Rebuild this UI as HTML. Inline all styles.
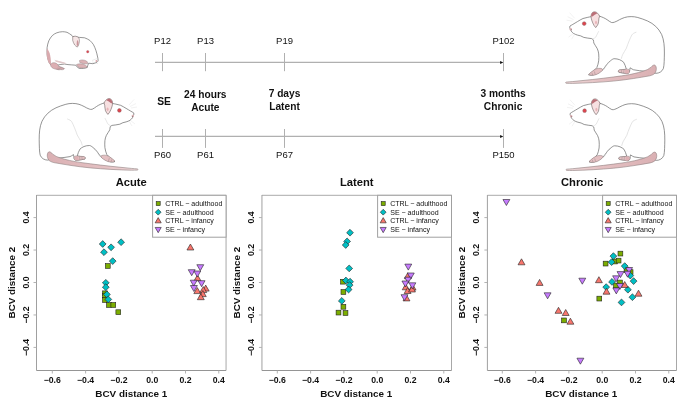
<!DOCTYPE html><html><head><meta charset="utf-8"><style>html,body{margin:0;padding:0;background:#fff;width:685px;height:405px;overflow:hidden}svg{display:block;will-change:transform}text{font-family:"Liberation Sans",sans-serif;fill:#111}</style></head><body>
<svg width="685" height="405" viewBox="0 0 685 405">
<rect width="685" height="405" fill="#fff"/>
<defs>
<g id="rat">
 <path d="M47.6 160.1C44.5 160 41.5 158.5 40.2 155.2C39.3 152 39.3 145 39.2 139.8C39.2 133 39.5 127 42 121.2C45 115 50 110.5 56 107.8C59 106.5 62.5 105.2 65.8 104.3C68 103.7 70 103.4 72.4 103.4C75 103.4 77 103.7 79 104.3C81 105 82.5 105.7 84.1 106.5C86 107.5 87.5 108.5 89.2 109C90.2 109.4 91.2 109.5 92.1 109.3C93.8 108.6 95 107.5 96.5 106.5C99 104.8 101.5 103.8 104 103L112.6 103.5C113.8 103.7 114.8 103.9 115.8 104.1C117.5 104.5 119 104.8 120.6 105.3C122.5 106.2 124.2 107.2 126.1 108.4C127.8 109.4 129.3 110.3 130.8 111.2C131.8 111.8 132.8 112.3 133.6 112.8C134 113.6 134 114.4 133.6 115.2C133.3 116.2 132.9 117.1 132.4 117.9C131.7 118.9 130.9 119.6 130 120.3C128.7 121.1 127.4 121.5 126.1 121.9C125 122.2 124 122.5 122.9 122.7C121.8 123.3 120.8 123.8 119.8 124.2C117 124.8 114.5 125.1 111.9 125.4C111.3 125.7 110.8 126.1 110.3 126.6C110 127.7 109.9 128.8 109.8 129.8C108.8 131.6 107.5 133.4 106.4 135.3C105.6 137 105.1 138.8 104.9 140.7C104.7 143 104.7 145.3 104.9 147.6C105.2 150 105.9 152.3 106.8 154.5C108 155.8 109 156.8 109.8 157.5C111.5 158.8 113.5 160 115 161.5C113 162.3 110.5 162 108.5 161.2C106 160.3 103 158.5 100.7 156.5C99.5 155 98.3 153.2 97 151.5C95.7 150 94.4 148.5 93 147.5C91.8 146.5 90.6 145.6 89.5 145.5C87.5 145.5 85.5 145.9 84 146.5C82.3 147.3 81 148 80 149C78.8 151 77.9 153.5 77.2 156.1L84.5 157C85.5 157.8 85.3 158.8 84.5 159.2C82 159.6 79 160 76.5 160.3C75 160.2 74.2 159.2 74 157.8C73.8 156.5 73.7 155.5 73.5 154.6C72.3 155.4 71 156.2 70 156.6C66 157.3 62 157.8 58.7 158C55 158.5 51 159.6 47.6 160.1Z" fill="#fff" stroke="#666" stroke-width="0.7"/>
 <path d="M67.2 118.9C69.5 119.8 71 120.5 71.7 121.7C73.5 125 75.5 130 77.2 135C78.5 137.5 80 139.5 81 141.5C81.6 143 82 144.3 82.3 145.6" fill="none" stroke="#d2d2d2" stroke-width="0.6"/>
 <path d="M104.9 118C105.8 120 106.8 122 107.8 123.9C108.8 124.8 109.8 125.4 110.8 125.7" fill="none" stroke="#d8d8d8" stroke-width="0.6"/>
 <path d="M95 148.6C96.5 151 98.3 153.8 100 156.5" fill="none" stroke="#bbb" stroke-width="0.5"/>
 <defs><linearGradient id="tg" x1="47" y1="0" x2="138" y2="0" gradientUnits="userSpaceOnUse"><stop offset="0" stop-color="#dab0b3"/><stop offset="0.6" stop-color="#e4c0c2"/><stop offset="1" stop-color="#efd9da"/></linearGradient></defs>
 <path d="M49.3 151.8C50.7 151.9 51.6 152.9 52.5 154C53.7 154.9 54.9 155.7 56.2 156.4C59 157.7 62 158.6 64.9 159.3C68 160.2 71 160.7 74 161.4C79 162.3 85 163.1 90.4 163.8C97 164.7 104 165.5 110.9 166.3C117.7 167 124.5 167.7 131.3 168.4C133.5 168.6 135.5 168.7 137.4 168.9C138.2 169.2 138.2 169.9 137.4 170.1C135.5 170.2 133.4 170.2 131.3 170.2C124.5 170 117.7 169.8 110.9 169.4C104 169 97 168.5 90.4 167.9C83.5 167.2 76.7 166.4 70 165.3C64.9 164.5 59 163.5 53.8 162.6C51.5 162 49.8 161.2 48.8 160.1C47.6 158.5 47.2 156.8 47.3 155C47.4 153.3 48.1 151.9 49.3 151.8Z" fill="url(#tg)" stroke="#8f7f80" stroke-width="0.6"/>
 <path d="M104 103C105 100.8 106.8 98.8 108.7 98.6C109.6 98.6 110.4 98.8 111.1 99.3C112 100.2 112.5 101.5 112.6 102.9C112.5 104.3 112.3 105.6 111.9 106.9C111.3 108.8 110.5 110.7 109.5 112.4C109 113.1 108.5 113.8 107.9 114.4C106.9 113.3 106.1 112.1 105.5 110.8C105.1 109 104.8 107.2 104.7 105.3C104.5 104.5 104.2 103.7 104 103Z" fill="#f7e0e1" stroke="#6a5c5d" stroke-width="0.6"/>
 <path d="M106.5 100.2C107.5 99.1 108.8 98.7 110.2 98.9C111.5 99.6 112.3 101 112.5 102.8C112 103.5 111.4 103.5 110.8 103C109.6 101.8 108.2 100.8 106.5 100.2Z" fill="#bb6f77"/>
 <ellipse cx="107.6" cy="109.3" rx="1" ry="1.8" fill="#e8b4b8"/>
 <circle cx="119.4" cy="110.4" r="1.85" fill="#e0434c" stroke="#8a6a6c" stroke-width="0.5"/>
 <circle cx="132.8" cy="116" r="1.2" fill="#dfb3b6"/>
 <circle cx="132.4" cy="116.5" r="0.45" fill="#555"/>
 <path d="M74.2 157C74.5 156.2 75.8 155.8 77.3 156L84 156.6C85.2 157 85.6 158 85 158.9C83 159.5 80 159.9 77.3 160.4C75.6 160.6 74.5 160 74.2 159C74 158.3 74 157.6 74.2 157Z" fill="#e6c3c5" stroke="#7f6f70" stroke-width="0.45"/>
 <path d="M74.6 157.2C75.5 156.4 77 156.3 78.3 156.5L78.6 160.1C77 160.4 75.6 160.3 74.8 159.5Z" fill="#ddb0b4"/>
 <path d="M79.6 156.6L79.9 159.8M81.9 156.8L82.1 159.5" stroke="#8a7a7b" stroke-width="0.4"/>
 <path d="M101.5 155.6C103.5 154.8 106.5 155 108.8 156.3C111 157.6 113.2 159.4 115 161.3C113.5 162.3 110.5 162.4 107.8 161.5C105 160.5 102.5 158.8 101 157C100.9 156.4 101.1 155.9 101.5 155.6Z" fill="#e4c0c2" stroke="#7f6f70" stroke-width="0.45"/>
 <path d="M109.3 158.2L108.4 161.2M111.7 159.5L111 161.9" stroke="#8a7a7b" stroke-width="0.4"/>
 <path d="M129 105L134 99.5M130 106.5L136 103.5M131 108L137 107M129 121L132 126M130.5 120.5L135 124" stroke="#e2e2e2" stroke-width="0.45" fill="none"/>
</g></defs>
<use href="#rat"/>
<use href="#rat" transform="translate(704 0.3) scale(-1 1)"/>
<use href="#rat" transform="translate(703.6 -86.8) scale(-1 1)"/>

<g>
 <path d="M50.5 64.6C49.3 63.2 48.6 61.8 48.3 60.1C47.6 58.3 47.2 56.4 47.1 54.4C47 52 47 49.8 47.1 47.6C47.4 45.2 48 42.9 48.8 40.8C49.8 38.8 50.9 37.1 52.2 35.7C53.6 34.4 55.1 33.4 56.8 32.8C58.7 32.1 60.6 31.8 62.5 31.7C64 31.7 65.6 31.9 67 32.3C68.7 33 70.4 34.4 72.1 35.6L72.7 36.5L79.4 37.4C81.1 37.5 82.9 37.6 84.6 37.8C86.4 38.5 88.2 39.3 89.8 40.4C91.1 41.6 92.3 43 93.4 44.5C94.5 46.5 95.3 48.6 96 50.7C96.7 52.8 97.2 54.9 97.6 57C97.9 58.2 98.1 59.4 98.1 60.6C97.9 61.3 97.5 61.8 97 62.2C95.7 62.8 94.3 63.4 92.9 63.7C91.5 63.6 90.1 63.4 88.7 63.2C88 64.5 87.5 66 87.2 67.5C85 68.3 82 68.6 79 68.3C77.5 67.5 76.5 66.5 75.8 65.2C73 65 70.5 64.8 68 64.6C66.5 64.5 65.5 64.2 64.7 64C61.5 64.2 58.5 64.8 56 65.6C54 66.2 52 66 50.5 64.6Z" fill="#fff" stroke="#5e5e5e" stroke-width="0.65"/>
 <path d="M72.7 36.7C73.7 36.3 74.8 36.1 75.8 36.2C77 36.6 78.1 37.1 78.9 37.8C79.3 39 79.5 40.2 79.4 41.4C79.2 42.8 78.8 44.3 78.4 45.6C78 46.1 77.7 46.6 77.3 47.1C76.3 46.5 75.4 45.8 74.7 45C73.8 43.5 73.1 42 72.7 40.4C72.6 39.2 72.6 37.9 72.7 36.7Z" fill="#f6e6e6" stroke="#6a5c5d" stroke-width="0.5"/>
 <path d="M77.3 40C78.3 40.8 78.8 42.5 78.4 44.5C78 45.5 77.5 46.2 77 46.2C76.5 44.5 76.5 42 77.3 40Z" fill="#c9949a"/>
 <circle cx="87.7" cy="51.7" r="1.2" fill="#df4450" stroke="#a07478" stroke-width="0.35"/>
 <circle cx="96.4" cy="61" r="0.9" fill="#d9a5aa"/>
 <path d="M46.9 48.5C46.4 52.5 46.6 56.5 47.6 60C48.4 62.5 49.6 64.3 50.9 65.2C51.2 62.5 50.8 59 50.2 55.5C49.6 52.5 48.5 50 46.9 48.5Z" fill="#d9aaae"/>
 <path d="M55 60.3C59 61 63 62 66.5 63.2C63 63.8 59 63.2 55.5 61.6Z" fill="#e6c4c6"/>
 <path d="M50.6 64.3C51.6 62.7 53.6 62.3 55.6 63C57.2 63.6 58.2 64.8 58.6 66.2C60.5 66.8 62.8 67.6 64.6 68.6C64 69.6 62.5 70 61 69.6C59.5 69.9 57.5 69.8 55.8 69.2C53.8 68.8 52 68 51.2 66.8C50.7 66 50.5 65.1 50.6 64.3Z" fill="#dcaeb2" stroke="#857576" stroke-width="0.4"/>
 <path d="M58.5 66.6L64 68.6M57.5 67.9L62 69.4M56.5 68.8L59.5 69.7" stroke="#8d7b7c" stroke-width="0.35"/>
 <path d="M79.5 60.5C81.5 59.5 84 59.8 86.5 61C87.5 61.8 87.8 62.8 87.5 63.8C85 64 82 63.5 79.8 62.5Z" fill="#dcb2b5" stroke="#857576" stroke-width="0.4"/>
 <path d="M76.5 64.5C78.5 63.5 81.5 63.6 84 64.5C86 65.3 87.3 66.3 87.2 67.3C85 68 82 68.3 79.5 67.8C78 67 77 65.9 76.5 64.5Z" fill="#dcb2b5" stroke="#857576" stroke-width="0.4"/>
 <path d="M92 60.5L98.5 58M92 62L98 63.5M54.5 60.1C58 61.3 61.5 62.5 64.7 63.5" stroke="#cfcfcf" stroke-width="0.4" fill="none"/>
</g>
<line x1="155" y1="62.4" x2="501" y2="62.4" stroke="#b0b0b0" stroke-width="1.1"/>
<path d="M500.1 60.9L503.3 62.4L500.1 63.9Z" fill="#111"/>
<line x1="162.5" y1="53.0" x2="162.5" y2="71.2" stroke="#b0b0b0" stroke-width="1"/>
<text x="162.5" y="44.1" text-anchor="middle" font-size="9.5" fill="#222">P12</text>
<line x1="205.5" y1="53.0" x2="205.5" y2="71.2" stroke="#b0b0b0" stroke-width="1"/>
<text x="205.5" y="44.1" text-anchor="middle" font-size="9.5" fill="#222">P13</text>
<line x1="284.5" y1="53.0" x2="284.5" y2="71.2" stroke="#b0b0b0" stroke-width="1"/>
<text x="284.5" y="44.1" text-anchor="middle" font-size="9.5" fill="#222">P19</text>
<line x1="503.5" y1="53.0" x2="503.5" y2="71.2" stroke="#b0b0b0" stroke-width="1"/>
<text x="503.5" y="44.1" text-anchor="middle" font-size="9.5" fill="#222">P102</text>
<line x1="155" y1="136.4" x2="501" y2="136.4" stroke="#b0b0b0" stroke-width="1.1"/>
<path d="M500.1 134.9L503.3 136.4L500.1 137.9Z" fill="#111"/>
<line x1="162.5" y1="129.0" x2="162.5" y2="147.9" stroke="#b0b0b0" stroke-width="1"/>
<text x="162.5" y="158.1" text-anchor="middle" font-size="9.5" fill="#222">P60</text>
<line x1="205.5" y1="129.0" x2="205.5" y2="147.9" stroke="#b0b0b0" stroke-width="1"/>
<text x="205.5" y="158.1" text-anchor="middle" font-size="9.5" fill="#222">P61</text>
<line x1="284.5" y1="129.0" x2="284.5" y2="147.9" stroke="#b0b0b0" stroke-width="1"/>
<text x="284.5" y="158.1" text-anchor="middle" font-size="9.5" fill="#222">P67</text>
<line x1="503.5" y1="129.0" x2="503.5" y2="147.9" stroke="#b0b0b0" stroke-width="1"/>
<text x="503.5" y="158.1" text-anchor="middle" font-size="9.5" fill="#222">P150</text>
<text x="164" y="105.2" text-anchor="middle" font-weight="bold" font-size="10.3">SE</text>
<text x="205.3" y="97.9" text-anchor="middle" font-weight="bold" font-size="10.2">24 hours</text>
<text x="205.3" y="110.5" text-anchor="middle" font-weight="bold" font-size="10.2">Acute</text>
<text x="284.5" y="97.4" text-anchor="middle" font-weight="bold" font-size="10.2">7 days</text>
<text x="284.5" y="110.0" text-anchor="middle" font-weight="bold" font-size="10.2">Latent</text>
<text x="503.1" y="97.3" text-anchor="middle" font-weight="bold" font-size="10.2">3 months</text>
<text x="503.1" y="109.8" text-anchor="middle" font-weight="bold" font-size="10.2">Chronic</text>
<text x="131.25" y="185.5" text-anchor="middle" font-weight="bold" font-size="11.2">Acute</text>
<path d="M36.5 195.3H226.05" stroke="#ababab" stroke-width="1"/>
<path d="M226.05 195.3V370.5" stroke="#a8a8a8" stroke-width="1"/>
<path d="M36.5 195V370.5" stroke="#a0a0a0" stroke-width="1"/>
<path d="M36.5 370.5H226.05" stroke="#959595" stroke-width="1"/>
<line x1="52.3" y1="370.5" x2="52.3" y2="373.5" stroke="#aaa" stroke-width="0.9"/>
<text x="52.3" y="383.3" text-anchor="middle" font-weight="bold" font-size="8.7">−0.6</text>
<line x1="85.6" y1="370.5" x2="85.6" y2="373.5" stroke="#aaa" stroke-width="0.9"/>
<text x="85.6" y="383.3" text-anchor="middle" font-weight="bold" font-size="8.7">−0.4</text>
<line x1="118.9" y1="370.5" x2="118.9" y2="373.5" stroke="#aaa" stroke-width="0.9"/>
<text x="118.9" y="383.3" text-anchor="middle" font-weight="bold" font-size="8.7">−0.2</text>
<line x1="152.2" y1="370.5" x2="152.2" y2="373.5" stroke="#aaa" stroke-width="0.9"/>
<text x="152.2" y="383.3" text-anchor="middle" font-weight="bold" font-size="8.7">0.0</text>
<line x1="185.5" y1="370.5" x2="185.5" y2="373.5" stroke="#aaa" stroke-width="0.9"/>
<text x="185.5" y="383.3" text-anchor="middle" font-weight="bold" font-size="8.7">0.2</text>
<line x1="218.8" y1="370.5" x2="218.8" y2="373.5" stroke="#aaa" stroke-width="0.9"/>
<text x="218.8" y="383.3" text-anchor="middle" font-weight="bold" font-size="8.7">0.4</text>
<line x1="36.5" y1="347.42" x2="33.5" y2="347.42" stroke="#aaa" stroke-width="0.9"/>
<text transform="translate(28.9 347.42) rotate(-90)" text-anchor="middle" font-weight="bold" font-size="8.7">−0.4</text>
<line x1="36.5" y1="314.96" x2="33.5" y2="314.96" stroke="#aaa" stroke-width="0.9"/>
<text transform="translate(28.9 314.96) rotate(-90)" text-anchor="middle" font-weight="bold" font-size="8.7">−0.2</text>
<line x1="36.5" y1="282.5" x2="33.5" y2="282.5" stroke="#aaa" stroke-width="0.9"/>
<text transform="translate(28.9 282.5) rotate(-90)" text-anchor="middle" font-weight="bold" font-size="8.7">0.0</text>
<line x1="36.5" y1="250.04" x2="33.5" y2="250.04" stroke="#aaa" stroke-width="0.9"/>
<text transform="translate(28.9 250.04) rotate(-90)" text-anchor="middle" font-weight="bold" font-size="8.7">0.2</text>
<line x1="36.5" y1="217.58" x2="33.5" y2="217.58" stroke="#aaa" stroke-width="0.9"/>
<text transform="translate(28.9 217.58) rotate(-90)" text-anchor="middle" font-weight="bold" font-size="8.7">0.4</text>
<text x="131.25" y="396.5" text-anchor="middle" font-weight="bold" font-size="9.9">BCV distance 1</text>
<text transform="translate(14.6 282.6) rotate(-90)" text-anchor="middle" font-weight="bold" font-size="9.85">BCV distance 2</text>
<rect x="105.4" y="263.6" width="4.8" height="4.8" fill="#7CAE00" stroke="#222" stroke-width="0.6"/>
<rect x="102.6" y="290.9" width="4.8" height="4.8" fill="#7CAE00" stroke="#222" stroke-width="0.6"/>
<rect x="102.6" y="293.2" width="4.8" height="4.8" fill="#7CAE00" stroke="#222" stroke-width="0.6"/>
<rect x="102.6" y="297.6" width="4.8" height="4.8" fill="#7CAE00" stroke="#222" stroke-width="0.6"/>
<rect x="106.5" y="302.6" width="4.8" height="4.8" fill="#7CAE00" stroke="#222" stroke-width="0.6"/>
<rect x="110.9" y="302.6" width="4.8" height="4.8" fill="#7CAE00" stroke="#222" stroke-width="0.6"/>
<rect x="115.9" y="309.8" width="4.8" height="4.8" fill="#7CAE00" stroke="#222" stroke-width="0.6"/>
<path d="M102.7 240.6L106.1 244L102.7 247.4L99.3 244Z" fill="#00BFC4" stroke="#222" stroke-width="0.6"/>
<path d="M121.1 238.8L124.5 242.2L121.1 245.6L117.7 242.2Z" fill="#00BFC4" stroke="#222" stroke-width="0.6"/>
<path d="M111.1 243.9L114.5 247.3L111.1 250.7L107.7 247.3Z" fill="#00BFC4" stroke="#222" stroke-width="0.6"/>
<path d="M104 248.8L107.4 252.2L104 255.6L100.6 252.2Z" fill="#00BFC4" stroke="#222" stroke-width="0.6"/>
<path d="M112.7 257.7L116.1 261.1L112.7 264.5L109.3 261.1Z" fill="#00BFC4" stroke="#222" stroke-width="0.6"/>
<path d="M105.8 279.4L109.2 282.8L105.8 286.2L102.4 282.8Z" fill="#00BFC4" stroke="#222" stroke-width="0.6"/>
<path d="M105.8 283.8L109.2 287.2L105.8 290.6L102.4 287.2Z" fill="#00BFC4" stroke="#222" stroke-width="0.6"/>
<path d="M106.9 291L110.3 294.4L106.9 297.8L103.5 294.4Z" fill="#00BFC4" stroke="#222" stroke-width="0.6"/>
<path d="M108.3 296L111.7 299.4L108.3 302.8L104.9 299.4Z" fill="#00BFC4" stroke="#222" stroke-width="0.6"/>
<path d="M190.4 244L193.86 250L186.94 250Z" fill="#F8766D" stroke="#222" stroke-width="0.6"/>
<path d="M197.5 274.8L200.96 280.8L194.04 280.8Z" fill="#F8766D" stroke="#222" stroke-width="0.6"/>
<path d="M205.7 285.1L209.16 291.1L202.24 291.1Z" fill="#F8766D" stroke="#222" stroke-width="0.6"/>
<path d="M197.3 287.6L200.76 293.6L193.84 293.6Z" fill="#F8766D" stroke="#222" stroke-width="0.6"/>
<path d="M203.3 286.6L206.76 292.6L199.84 292.6Z" fill="#F8766D" stroke="#222" stroke-width="0.6"/>
<path d="M202.8 290.6L206.26 296.6L199.34 296.6Z" fill="#F8766D" stroke="#222" stroke-width="0.6"/>
<path d="M200.8 293.7L204.26 299.7L197.34 299.7Z" fill="#F8766D" stroke="#222" stroke-width="0.6"/>
<path d="M200.3 270.7L203.76 264.7L196.84 264.7Z" fill="#C77CFF" stroke="#222" stroke-width="0.6"/>
<path d="M191.7 275.7L195.16 269.7L188.24 269.7Z" fill="#C77CFF" stroke="#222" stroke-width="0.6"/>
<path d="M197.3 277L200.76 271L193.84 271Z" fill="#C77CFF" stroke="#222" stroke-width="0.6"/>
<path d="M193.7 286.2L197.16 280.2L190.24 280.2Z" fill="#C77CFF" stroke="#222" stroke-width="0.6"/>
<path d="M201.6 286.7L205.06 280.7L198.14 280.7Z" fill="#C77CFF" stroke="#222" stroke-width="0.6"/>
<path d="M193.9 291.5L197.36 285.5L190.44 285.5Z" fill="#C77CFF" stroke="#222" stroke-width="0.6"/>
<rect x="152.6" y="195.3" width="73.45" height="41.9" fill="#fff" stroke="#a0a0a0" stroke-width="1"/>
<rect x="156.2" y="201.6" width="4" height="4" fill="#7CAE00" stroke="#222" stroke-width="0.6"/>
<path d="M158.2 209.3L161.1 212.2L158.2 215.1L155.3 212.2Z" fill="#00BFC4" stroke="#222" stroke-width="0.6"/>
<path d="M158.2 217.6L161.23 222.85L155.17 222.85Z" fill="#F8766D" stroke="#222" stroke-width="0.6"/>
<path d="M158.2 232.7L161.23 227.45L155.17 227.45Z" fill="#C77CFF" stroke="#222" stroke-width="0.6"/>
<text x="165.2" y="206.1" font-size="7.05" fill="#222">CTRL − adulthood</text>
<text x="165.2" y="214.7" font-size="7.05" fill="#222">SE − adulthood</text>
<text x="165.2" y="223.3" font-size="7.05" fill="#222">CTRL − infancy</text>
<text x="165.2" y="231.9" font-size="7.05" fill="#222">SE − infancy</text>
<text x="356.7" y="185.5" text-anchor="middle" font-weight="bold" font-size="11.2">Latent</text>
<path d="M261.95 195.3H451.5" stroke="#ababab" stroke-width="1"/>
<path d="M451.5 195.3V370.5" stroke="#a8a8a8" stroke-width="1"/>
<path d="M261.95 195V370.5" stroke="#a0a0a0" stroke-width="1"/>
<path d="M261.95 370.5H451.5" stroke="#959595" stroke-width="1"/>
<line x1="277.3" y1="370.5" x2="277.3" y2="373.5" stroke="#aaa" stroke-width="0.9"/>
<text x="277.3" y="383.3" text-anchor="middle" font-weight="bold" font-size="8.7">−0.6</text>
<line x1="310.6" y1="370.5" x2="310.6" y2="373.5" stroke="#aaa" stroke-width="0.9"/>
<text x="310.6" y="383.3" text-anchor="middle" font-weight="bold" font-size="8.7">−0.4</text>
<line x1="343.9" y1="370.5" x2="343.9" y2="373.5" stroke="#aaa" stroke-width="0.9"/>
<text x="343.9" y="383.3" text-anchor="middle" font-weight="bold" font-size="8.7">−0.2</text>
<line x1="377.2" y1="370.5" x2="377.2" y2="373.5" stroke="#aaa" stroke-width="0.9"/>
<text x="377.2" y="383.3" text-anchor="middle" font-weight="bold" font-size="8.7">0.0</text>
<line x1="410.5" y1="370.5" x2="410.5" y2="373.5" stroke="#aaa" stroke-width="0.9"/>
<text x="410.5" y="383.3" text-anchor="middle" font-weight="bold" font-size="8.7">0.2</text>
<line x1="443.8" y1="370.5" x2="443.8" y2="373.5" stroke="#aaa" stroke-width="0.9"/>
<text x="443.8" y="383.3" text-anchor="middle" font-weight="bold" font-size="8.7">0.4</text>
<line x1="261.95" y1="347.42" x2="258.95" y2="347.42" stroke="#aaa" stroke-width="0.9"/>
<text transform="translate(253.95 347.42) rotate(-90)" text-anchor="middle" font-weight="bold" font-size="8.7">−0.4</text>
<line x1="261.95" y1="314.96" x2="258.95" y2="314.96" stroke="#aaa" stroke-width="0.9"/>
<text transform="translate(253.95 314.96) rotate(-90)" text-anchor="middle" font-weight="bold" font-size="8.7">−0.2</text>
<line x1="261.95" y1="282.5" x2="258.95" y2="282.5" stroke="#aaa" stroke-width="0.9"/>
<text transform="translate(253.95 282.5) rotate(-90)" text-anchor="middle" font-weight="bold" font-size="8.7">0.0</text>
<line x1="261.95" y1="250.04" x2="258.95" y2="250.04" stroke="#aaa" stroke-width="0.9"/>
<text transform="translate(253.95 250.04) rotate(-90)" text-anchor="middle" font-weight="bold" font-size="8.7">0.2</text>
<line x1="261.95" y1="217.58" x2="258.95" y2="217.58" stroke="#aaa" stroke-width="0.9"/>
<text transform="translate(253.95 217.58) rotate(-90)" text-anchor="middle" font-weight="bold" font-size="8.7">0.4</text>
<text x="356.2" y="396.5" text-anchor="middle" font-weight="bold" font-size="9.9">BCV distance 1</text>
<text transform="translate(240.4 282.6) rotate(-90)" text-anchor="middle" font-weight="bold" font-size="9.85">BCV distance 2</text>
<rect x="340.6" y="279.3" width="4.8" height="4.8" fill="#7CAE00" stroke="#222" stroke-width="0.6"/>
<rect x="341" y="289.6" width="4.8" height="4.8" fill="#7CAE00" stroke="#222" stroke-width="0.6"/>
<rect x="341" y="304.4" width="4.8" height="4.8" fill="#7CAE00" stroke="#222" stroke-width="0.6"/>
<rect x="336.1" y="310.2" width="4.8" height="4.8" fill="#7CAE00" stroke="#222" stroke-width="0.6"/>
<rect x="343.1" y="310.6" width="4.8" height="4.8" fill="#7CAE00" stroke="#222" stroke-width="0.6"/>
<path d="M350 229.3L353.4 232.7L350 236.1L346.6 232.7Z" fill="#00BFC4" stroke="#222" stroke-width="0.6"/>
<path d="M347.1 238L350.5 241.4L347.1 244.8L343.7 241.4Z" fill="#00BFC4" stroke="#222" stroke-width="0.6"/>
<path d="M345.7 241.6L349.1 245L345.7 248.4L342.3 245Z" fill="#00BFC4" stroke="#222" stroke-width="0.6"/>
<path d="M349.2 265L352.6 268.4L349.2 271.8L345.8 268.4Z" fill="#00BFC4" stroke="#222" stroke-width="0.6"/>
<path d="M345.9 277.1L349.3 280.5L345.9 283.9L342.5 280.5Z" fill="#00BFC4" stroke="#222" stroke-width="0.6"/>
<path d="M350.1 278.3L353.5 281.7L350.1 285.1L346.7 281.7Z" fill="#00BFC4" stroke="#222" stroke-width="0.6"/>
<path d="M349.6 281.7L353 285.1L349.6 288.5L346.2 285.1Z" fill="#00BFC4" stroke="#222" stroke-width="0.6"/>
<path d="M348.6 286.1L352 289.5L348.6 292.9L345.2 289.5Z" fill="#00BFC4" stroke="#222" stroke-width="0.6"/>
<path d="M341.8 297.5L345.2 300.9L341.8 304.3L338.4 300.9Z" fill="#00BFC4" stroke="#222" stroke-width="0.6"/>
<path d="M407.8 272.7L411.26 278.7L404.34 278.7Z" fill="#F8766D" stroke="#222" stroke-width="0.6"/>
<path d="M405.7 283.8L409.16 289.8L402.24 289.8Z" fill="#F8766D" stroke="#222" stroke-width="0.6"/>
<path d="M412.6 284.1L416.06 290.1L409.14 290.1Z" fill="#F8766D" stroke="#222" stroke-width="0.6"/>
<path d="M407.6 287.5L411.06 293.5L404.14 293.5Z" fill="#F8766D" stroke="#222" stroke-width="0.6"/>
<path d="M412 286L415.46 292L408.54 292Z" fill="#F8766D" stroke="#222" stroke-width="0.6"/>
<path d="M406.5 294.9L409.96 300.9L403.04 300.9Z" fill="#F8766D" stroke="#222" stroke-width="0.6"/>
<path d="M408.3 270.1L411.76 264.1L404.84 264.1Z" fill="#C77CFF" stroke="#222" stroke-width="0.6"/>
<path d="M410.8 279L414.26 273L407.34 273Z" fill="#C77CFF" stroke="#222" stroke-width="0.6"/>
<path d="M408.1 283.2L411.56 277.2L404.64 277.2Z" fill="#C77CFF" stroke="#222" stroke-width="0.6"/>
<path d="M405.4 287L408.86 281L401.94 281Z" fill="#C77CFF" stroke="#222" stroke-width="0.6"/>
<path d="M412.4 288.8L415.86 282.8L408.94 282.8Z" fill="#C77CFF" stroke="#222" stroke-width="0.6"/>
<path d="M404.5 300.7L407.96 294.7L401.04 294.7Z" fill="#C77CFF" stroke="#222" stroke-width="0.6"/>
<rect x="377.6" y="195.3" width="73.9" height="41.9" fill="#fff" stroke="#a0a0a0" stroke-width="1"/>
<rect x="381.2" y="201.6" width="4" height="4" fill="#7CAE00" stroke="#222" stroke-width="0.6"/>
<path d="M383.2 209.3L386.1 212.2L383.2 215.1L380.3 212.2Z" fill="#00BFC4" stroke="#222" stroke-width="0.6"/>
<path d="M383.2 217.6L386.23 222.85L380.17 222.85Z" fill="#F8766D" stroke="#222" stroke-width="0.6"/>
<path d="M383.2 232.7L386.23 227.45L380.17 227.45Z" fill="#C77CFF" stroke="#222" stroke-width="0.6"/>
<text x="390.2" y="206.1" font-size="7.05" fill="#222">CTRL − adulthood</text>
<text x="390.2" y="214.7" font-size="7.05" fill="#222">SE − adulthood</text>
<text x="390.2" y="223.3" font-size="7.05" fill="#222">CTRL − infancy</text>
<text x="390.2" y="231.9" font-size="7.05" fill="#222">SE − infancy</text>
<text x="582.15" y="185.5" text-anchor="middle" font-weight="bold" font-size="11.2">Chronic</text>
<path d="M487.4 195.3H676.5" stroke="#ababab" stroke-width="1"/>
<path d="M676.5 195.3V370.5" stroke="#a8a8a8" stroke-width="1"/>
<path d="M487.4 195V370.5" stroke="#a0a0a0" stroke-width="1"/>
<path d="M487.4 370.5H676.5" stroke="#959595" stroke-width="1"/>
<line x1="502.3" y1="370.5" x2="502.3" y2="373.5" stroke="#aaa" stroke-width="0.9"/>
<text x="502.3" y="383.3" text-anchor="middle" font-weight="bold" font-size="8.7">−0.6</text>
<line x1="535.6" y1="370.5" x2="535.6" y2="373.5" stroke="#aaa" stroke-width="0.9"/>
<text x="535.6" y="383.3" text-anchor="middle" font-weight="bold" font-size="8.7">−0.4</text>
<line x1="568.9" y1="370.5" x2="568.9" y2="373.5" stroke="#aaa" stroke-width="0.9"/>
<text x="568.9" y="383.3" text-anchor="middle" font-weight="bold" font-size="8.7">−0.2</text>
<line x1="602.2" y1="370.5" x2="602.2" y2="373.5" stroke="#aaa" stroke-width="0.9"/>
<text x="602.2" y="383.3" text-anchor="middle" font-weight="bold" font-size="8.7">0.0</text>
<line x1="635.5" y1="370.5" x2="635.5" y2="373.5" stroke="#aaa" stroke-width="0.9"/>
<text x="635.5" y="383.3" text-anchor="middle" font-weight="bold" font-size="8.7">0.2</text>
<line x1="668.8" y1="370.5" x2="668.8" y2="373.5" stroke="#aaa" stroke-width="0.9"/>
<text x="668.8" y="383.3" text-anchor="middle" font-weight="bold" font-size="8.7">0.4</text>
<line x1="487.4" y1="347.42" x2="484.4" y2="347.42" stroke="#aaa" stroke-width="0.9"/>
<text transform="translate(478.8 347.42) rotate(-90)" text-anchor="middle" font-weight="bold" font-size="8.7">−0.4</text>
<line x1="487.4" y1="314.96" x2="484.4" y2="314.96" stroke="#aaa" stroke-width="0.9"/>
<text transform="translate(478.8 314.96) rotate(-90)" text-anchor="middle" font-weight="bold" font-size="8.7">−0.2</text>
<line x1="487.4" y1="282.5" x2="484.4" y2="282.5" stroke="#aaa" stroke-width="0.9"/>
<text transform="translate(478.8 282.5) rotate(-90)" text-anchor="middle" font-weight="bold" font-size="8.7">0.0</text>
<line x1="487.4" y1="250.04" x2="484.4" y2="250.04" stroke="#aaa" stroke-width="0.9"/>
<text transform="translate(478.8 250.04) rotate(-90)" text-anchor="middle" font-weight="bold" font-size="8.7">0.2</text>
<line x1="487.4" y1="217.58" x2="484.4" y2="217.58" stroke="#aaa" stroke-width="0.9"/>
<text transform="translate(478.8 217.58) rotate(-90)" text-anchor="middle" font-weight="bold" font-size="8.7">0.4</text>
<text x="581.2" y="396.5" text-anchor="middle" font-weight="bold" font-size="9.9">BCV distance 1</text>
<text transform="translate(464.5 282.6) rotate(-90)" text-anchor="middle" font-weight="bold" font-size="9.85">BCV distance 2</text>
<rect x="618" y="251.2" width="4.8" height="4.8" fill="#7CAE00" stroke="#222" stroke-width="0.6"/>
<rect x="603.2" y="261.2" width="4.8" height="4.8" fill="#7CAE00" stroke="#222" stroke-width="0.6"/>
<rect x="612.5" y="259.1" width="4.8" height="4.8" fill="#7CAE00" stroke="#222" stroke-width="0.6"/>
<rect x="616.2" y="258.2" width="4.8" height="4.8" fill="#7CAE00" stroke="#222" stroke-width="0.6"/>
<rect x="624.1" y="267.8" width="4.8" height="4.8" fill="#7CAE00" stroke="#222" stroke-width="0.6"/>
<rect x="628.2" y="269.7" width="4.8" height="4.8" fill="#7CAE00" stroke="#222" stroke-width="0.6"/>
<rect x="617.5" y="280.1" width="4.8" height="4.8" fill="#7CAE00" stroke="#222" stroke-width="0.6"/>
<rect x="613.6" y="283.1" width="4.8" height="4.8" fill="#7CAE00" stroke="#222" stroke-width="0.6"/>
<rect x="596.9" y="296.2" width="4.8" height="4.8" fill="#7CAE00" stroke="#222" stroke-width="0.6"/>
<rect x="561.6" y="318" width="4.8" height="4.8" fill="#7CAE00" stroke="#222" stroke-width="0.6"/>
<path d="M613.4 252.7L616.8 256.1L613.4 259.5L610 256.1Z" fill="#00BFC4" stroke="#222" stroke-width="0.6"/>
<path d="M611.6 258.7L615 262.1L611.6 265.5L608.2 262.1Z" fill="#00BFC4" stroke="#222" stroke-width="0.6"/>
<path d="M624.7 262.7L628.1 266.1L624.7 269.5L621.3 266.1Z" fill="#00BFC4" stroke="#222" stroke-width="0.6"/>
<path d="M630.3 272.2L633.7 275.6L630.3 279L626.9 275.6Z" fill="#00BFC4" stroke="#222" stroke-width="0.6"/>
<path d="M612 278.5L615.4 281.9L612 285.3L608.6 281.9Z" fill="#00BFC4" stroke="#222" stroke-width="0.6"/>
<path d="M633.6 277.7L637 281.1L633.6 284.5L630.2 281.1Z" fill="#00BFC4" stroke="#222" stroke-width="0.6"/>
<path d="M606.2 283.7L609.6 287.1L606.2 290.5L602.8 287.1Z" fill="#00BFC4" stroke="#222" stroke-width="0.6"/>
<path d="M627.9 286.3L631.3 289.7L627.9 293.1L624.5 289.7Z" fill="#00BFC4" stroke="#222" stroke-width="0.6"/>
<path d="M632.4 293.8L635.8 297.2L632.4 300.6L629 297.2Z" fill="#00BFC4" stroke="#222" stroke-width="0.6"/>
<path d="M621.5 299L624.9 302.4L621.5 305.8L618.1 302.4Z" fill="#00BFC4" stroke="#222" stroke-width="0.6"/>
<path d="M521.5 258.8L524.96 264.8L518.04 264.8Z" fill="#F8766D" stroke="#222" stroke-width="0.6"/>
<path d="M539.6 279.4L543.06 285.4L536.14 285.4Z" fill="#F8766D" stroke="#222" stroke-width="0.6"/>
<path d="M558.5 307.3L561.96 313.3L555.04 313.3Z" fill="#F8766D" stroke="#222" stroke-width="0.6"/>
<path d="M565.7 309.5L569.16 315.5L562.24 315.5Z" fill="#F8766D" stroke="#222" stroke-width="0.6"/>
<path d="M570.4 318.2L573.86 324.2L566.94 324.2Z" fill="#F8766D" stroke="#222" stroke-width="0.6"/>
<path d="M598.9 276.7L602.36 282.7L595.44 282.7Z" fill="#F8766D" stroke="#222" stroke-width="0.6"/>
<path d="M624.7 281.5L628.16 287.5L621.24 287.5Z" fill="#F8766D" stroke="#222" stroke-width="0.6"/>
<path d="M606.5 288.2L609.96 294.2L603.04 294.2Z" fill="#F8766D" stroke="#222" stroke-width="0.6"/>
<path d="M638.5 290.2L641.96 296.2L635.04 296.2Z" fill="#F8766D" stroke="#222" stroke-width="0.6"/>
<path d="M506.4 205.5L509.86 199.5L502.94 199.5Z" fill="#C77CFF" stroke="#222" stroke-width="0.6"/>
<path d="M547.6 298.8L551.06 292.8L544.14 292.8Z" fill="#C77CFF" stroke="#222" stroke-width="0.6"/>
<path d="M580.4 364.2L583.86 358.2L576.94 358.2Z" fill="#C77CFF" stroke="#222" stroke-width="0.6"/>
<path d="M582.3 284.2L585.76 278.2L578.84 278.2Z" fill="#C77CFF" stroke="#222" stroke-width="0.6"/>
<path d="M629.1 273.5L632.56 267.5L625.64 267.5Z" fill="#C77CFF" stroke="#222" stroke-width="0.6"/>
<path d="M627.6 277.2L631.06 271.2L624.14 271.2Z" fill="#C77CFF" stroke="#222" stroke-width="0.6"/>
<path d="M620.5 277.6L623.96 271.6L617.04 271.6Z" fill="#C77CFF" stroke="#222" stroke-width="0.6"/>
<path d="M616.1 281.8L619.56 275.8L612.64 275.8Z" fill="#C77CFF" stroke="#222" stroke-width="0.6"/>
<path d="M619.9 289.5L623.36 283.5L616.44 283.5Z" fill="#C77CFF" stroke="#222" stroke-width="0.6"/>
<path d="M616.3 293.9L619.76 287.9L612.84 287.9Z" fill="#C77CFF" stroke="#222" stroke-width="0.6"/>
<rect x="602.6" y="195.3" width="73.9" height="41.9" fill="#fff" stroke="#a0a0a0" stroke-width="1"/>
<rect x="606.2" y="201.6" width="4" height="4" fill="#7CAE00" stroke="#222" stroke-width="0.6"/>
<path d="M608.2 209.3L611.1 212.2L608.2 215.1L605.3 212.2Z" fill="#00BFC4" stroke="#222" stroke-width="0.6"/>
<path d="M608.2 217.6L611.23 222.85L605.17 222.85Z" fill="#F8766D" stroke="#222" stroke-width="0.6"/>
<path d="M608.2 232.7L611.23 227.45L605.17 227.45Z" fill="#C77CFF" stroke="#222" stroke-width="0.6"/>
<text x="615.2" y="206.1" font-size="7.05" fill="#222">CTRL − adulthood</text>
<text x="615.2" y="214.7" font-size="7.05" fill="#222">SE − adulthood</text>
<text x="615.2" y="223.3" font-size="7.05" fill="#222">CTRL − infancy</text>
<text x="615.2" y="231.9" font-size="7.05" fill="#222">SE − infancy</text>
</svg></body></html>
